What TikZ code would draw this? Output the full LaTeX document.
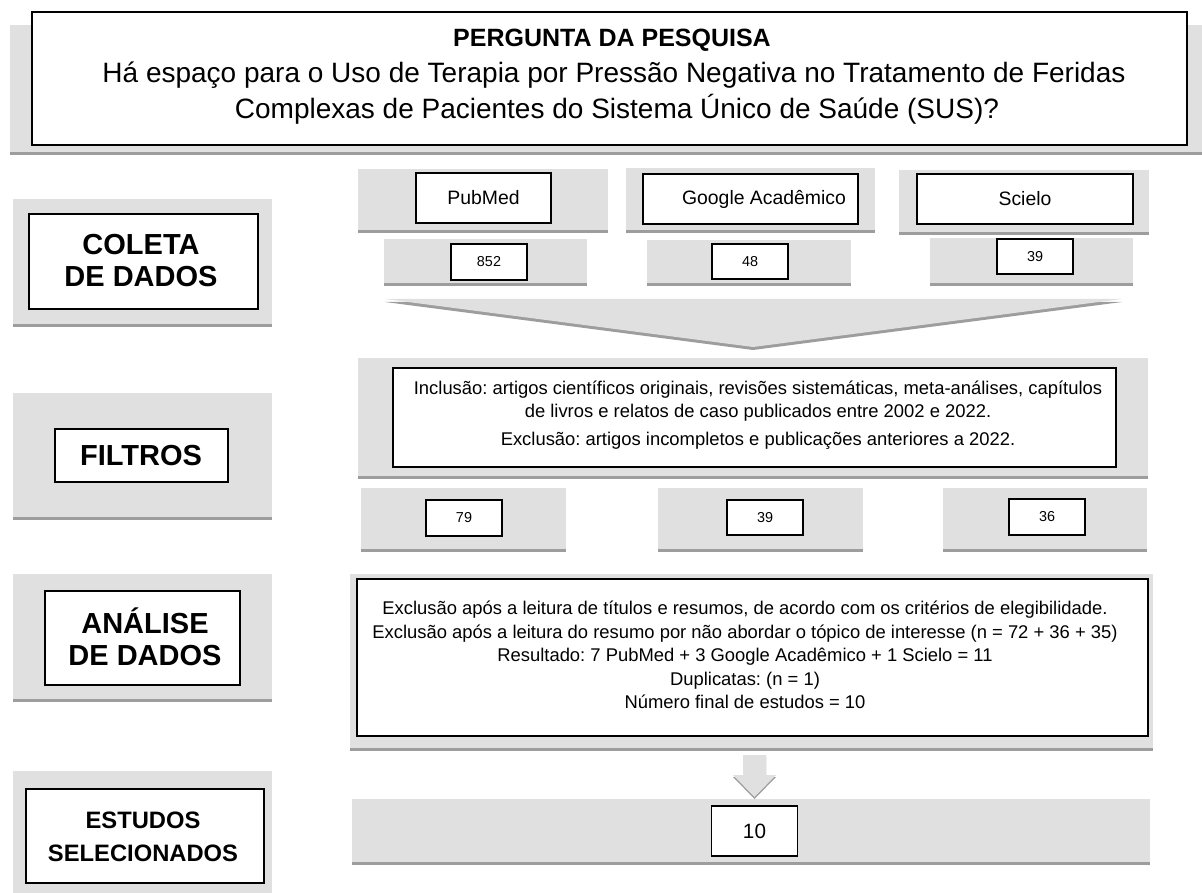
\documentclass[tikz,border=0pt]{standalone}
\usepackage{fontspec}
\setmainfont{Liberation Sans}
\usetikzlibrary{shadows}
\definecolor{panelgray}{RGB}{224,224,224}
\definecolor{shadowgray}{RGB}{140,140,140}

\begin{document}
\frenchspacing
\begin{tikzpicture}[x=1pt, y=-1pt,
    greypanel/.style={rectangle, fill=panelgray, inner sep=0pt,
        drop shadow={shadow xshift=0pt, shadow yshift=-3pt, fill=shadowgray, opacity=0.85}},
    whitebox/.style={rectangle, draw, fill=white, line width=1.5pt, inner sep=0pt, align=center},
    stagelabel/.style={font=\bfseries\fontsize{29}{32}\selectfont, align=center},
    countbox/.style={whitebox, minimum width=76pt, minimum height=36pt, font=\fontsize{14.4}{17}\selectfont},
    dbbox/.style={whitebox, minimum height=50pt, font=\fontsize{19.4}{23}\selectfont}]
    \useasboundingbox (0,0) rectangle (1202,893);

    % Pergunta da pesquisa
    \node [greypanel, minimum width=1192pt, minimum height=127pt] (qpanel) at (606,88.5) {};
    \node [whitebox, minimum width=1155pt, minimum height=133pt] (qbox) at (609.5,78.5) {};
    \node [anchor=base, font=\bfseries\fontsize{25}{30}\selectfont] (qtitle) at (612,46.7) {PERGUNTA DA PESQUISA};
    \node [anchor=base, font=\fontsize{28}{36}\selectfont] (qline1) at (614,82.7) {Há espaço para o Uso de Terapia por Pressão Negativa no Tratamento de Feridas};
    \node [anchor=base, font=\fontsize{28}{36}\selectfont] (qline2) at (617,118.3) {Complexas de Pacientes do Sistema Único de Saúde (SUS)?};

    % Etapas (coluna da esquerda)
    \node [greypanel, minimum width=259pt, minimum height=125pt] (colpanel) at (142.5,261.5) {};
    \node [whitebox, minimum width=229pt, minimum height=95pt] (colbox) at (143.5,261.5) {};
    \node [stagelabel] (coltext) at (141,261) {COLETA\\DE DADOS};

    \node [greypanel, minimum width=259pt, minimum height=124pt] (filpanel) at (142.5,455) {};
    \node [whitebox, minimum width=173pt, minimum height=53pt] (filbox) at (141.5,455.5) {};
    \node [stagelabel] (filtext) at (141,456) {FILTROS};

    \node [greypanel, minimum width=259pt, minimum height=125pt] (anapanel) at (142.5,636.5) {};
    \node [whitebox, minimum width=195pt, minimum height=94pt] (anabox) at (142.5,638) {};
    \node [stagelabel] (anatext) at (145,636.5) {ANÁLISE\\DE DADOS};

    \node [greypanel, minimum width=259pt, minimum height=128pt] (estpanel) at (142.5,835) {};
    \node [whitebox, minimum width=238pt, minimum height=94pt] (estbox) at (145,836) {};
    \node [stagelabel, font=\bfseries\fontsize{23.75}{33}\selectfont] (esttext) at (143,836.5) {ESTUDOS\\SELECIONADOS};

    % Bases de dados
    \node [greypanel, minimum width=250pt, minimum height=61pt] (pubpanel) at (483,199.5) {};
    \node [dbbox, minimum width=135pt] (pub) at (483.5,198) {PubMed};
    \node [greypanel, minimum width=249pt, minimum height=62pt] (goopanel) at (750.5,199) {};
    \node [dbbox, minimum width=215pt] (goo) at (750.5,199) {\hspace*{27pt}Google Acadêmico};
    \node [greypanel, minimum width=250pt, minimum height=62pt] (scipanel) at (1024,201) {};
    \node [dbbox, minimum width=216pt] (sci) at (1025,199) {Scielo};

    \node [greypanel, minimum width=203pt, minimum height=44pt] (pubnpanel) at (485.5,261) {};
    \node [countbox] (pubn) at (489,262) {852};
    \node [greypanel, minimum width=204pt, minimum height=43pt] (goonpanel) at (749,261.5) {};
    \node [countbox, minimum height=35pt] (goon) at (750,261.5) {48};
    \node [greypanel, minimum width=203pt, minimum height=45pt] (scinpanel) at (1031.5,260.5) {};
    \node [countbox, minimum height=35pt] (scin) at (1035,256.5) {39};

    % funil
    \path [fill=panelgray, drop shadow={shadow xshift=0pt, shadow yshift=-3pt, fill=shadowgray, opacity=0.85}]
        (385,299) -- (1122,299) -- (753,347) -- cycle;

    % Filtros
    \node [greypanel, minimum width=790pt, minimum height=118pt] (critpanel) at (753,417) {};
    \node [whitebox, minimum width=723pt, minimum height=99pt] (critbox) at (754.5,417.5) {};
    \node [font=\fontsize{18.4}{23}\selectfont, align=center] (crittext) at (758,415.5)
        {Inclusão: artigos científicos originais, revisões sistemáticas, meta-análises, capítulos\\
         de livros e relatos de caso publicados entre 2002 e 2022.\\[5pt]
         Exclusão: artigos incompletos e publicações anteriores a 2022.};

    \node [greypanel, minimum width=205pt, minimum height=61pt] (pubfpanel) at (463.5,518.5) {};
    \node [countbox] (pubf) at (464,518) {79};
    \node [greypanel, minimum width=205pt, minimum height=61pt] (goofpanel) at (760.5,518.5) {};
    \node [countbox, minimum height=35pt] (goof) at (765,517.5) {39};
    \node [greypanel, minimum width=204pt, minimum height=61pt] (scifpanel) at (1045,518.5) {};
    \node [countbox] (scif) at (1047,517) {36};

    % Analise
    \node [greypanel, minimum width=803pt, minimum height=174pt] (respanel) at (751.5,661) {};
    \node [whitebox, minimum width=791pt, minimum height=157pt] (resbox) at (752.5,657.5) {};
    \node [font=\fontsize{18.4}{23.5}\selectfont, align=center] (restext) at (745,655)
        {Exclusão após a leitura de títulos e resumos, de acordo com os critérios de elegibilidade.\\
         Exclusão após a leitura do resumo por não abordar o tópico de interesse (n = 72 + 36 + 35)\\
         Resultado: 7 PubMed + 3 Google Acadêmico + 1 Scielo = 11\\
         Duplicatas: (n = 1)\\
         Número final de estudos = 10};

    % seta
    \path [fill=panelgray, drop shadow={shadow xshift=0pt, shadow yshift=-2pt, fill=shadowgray, opacity=0.85}]
        (743,755) -- (766,755) -- (766,775) -- (776,775) -- (754.5,797) -- (733,775) -- (743,775) -- cycle;

    % Estudos selecionados
    \node [greypanel, minimum width=798pt, minimum height=63pt] (finpanel) at (751,830.5) {};
    \node [whitebox, minimum width=86pt, minimum height=50pt, font=\fontsize{20.7}{25}\selectfont] (fin) at (754.5,831) {10};
\end{tikzpicture}
\end{document}
